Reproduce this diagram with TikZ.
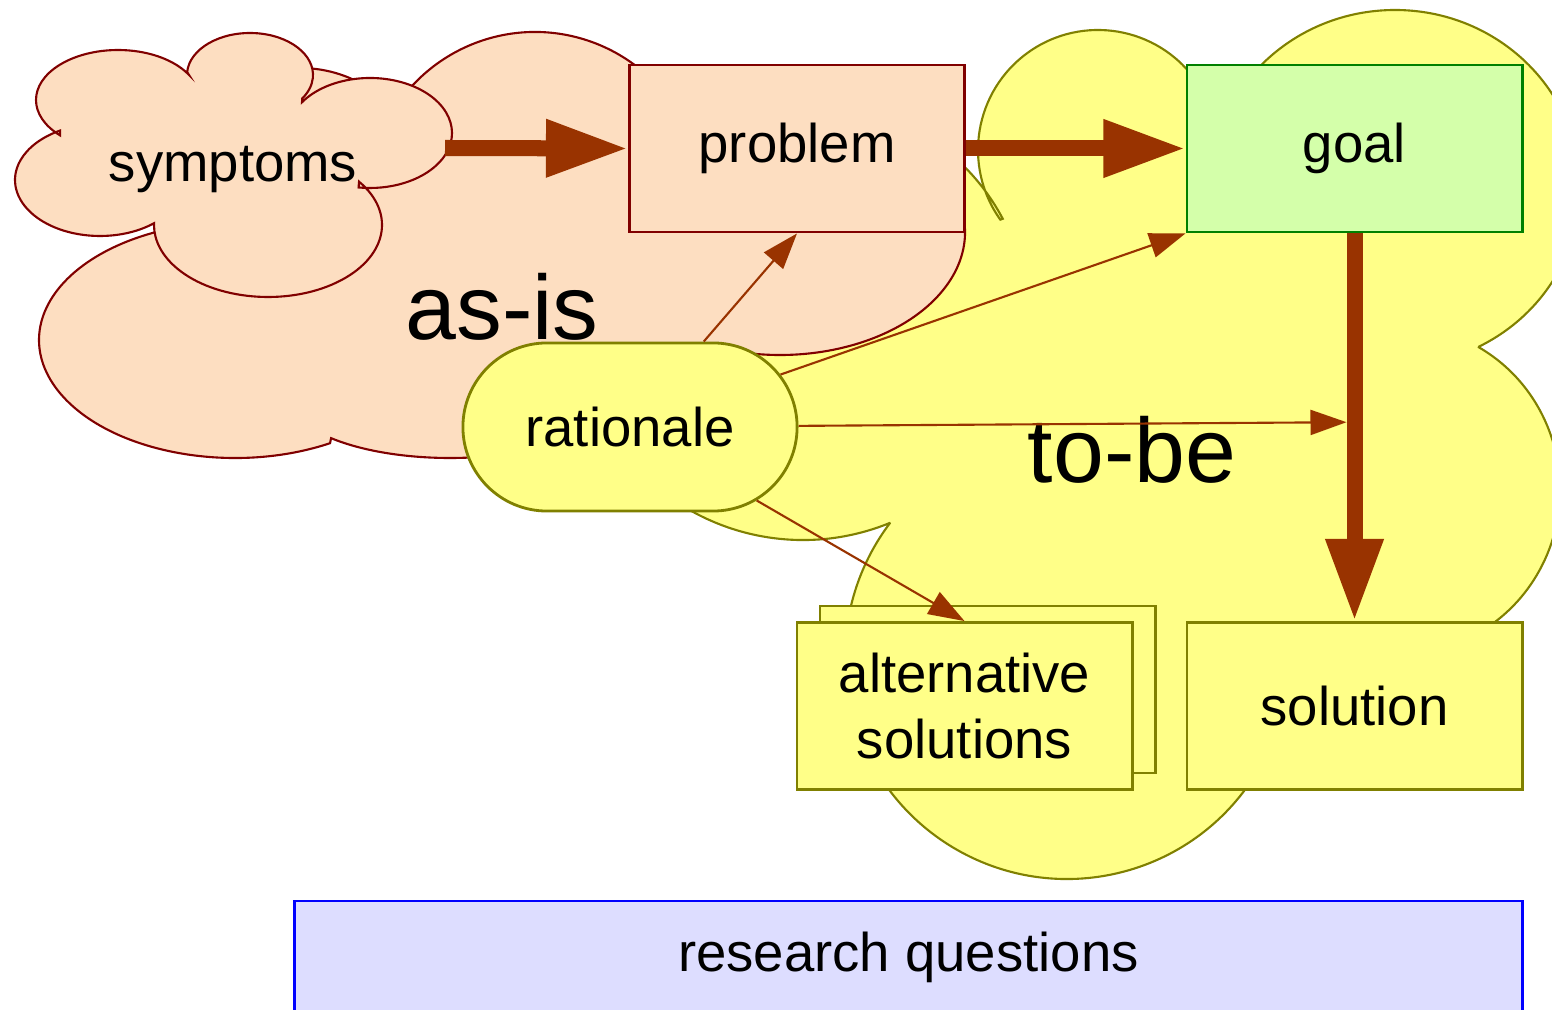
\documentclass[tikz,border=0pt]{standalone}
\usepackage{fontspec}
\setmainfont{Liberation Sans}
\usepackage{xcolor}
\usepackage{tikz}
\usetikzlibrary{arrows.meta, calc, shapes.misc}

\definecolor{asisfill}{RGB}{253,222,193}
\definecolor{asisline}{RGB}{128,0,0}
\definecolor{tobefill}{RGB}{255,255,136}
\definecolor{tobeline}{RGB}{128,128,0}
\definecolor{goalfill}{RGB}{212,255,170}
\definecolor{goalline}{RGB}{0,128,0}
\definecolor{rqfill}{RGB}{221,221,255}
\definecolor{rqline}{RGB}{0,0,255}
\definecolor{arrowcol}{RGB}{153,51,0}

\tikzset{
  asis cloud/.style = {draw=asisline, fill=asisfill, line width=0.6pt},
  tobe cloud/.style = {draw=tobeline, fill=tobefill, line width=0.6pt},
  diagram box/.style = {rectangle, minimum width=3.35cm, minimum height=1.67cm,
    inner sep=0pt, line width=0.8pt, align=center, font=\fontsize{15.5}{19}\selectfont},
  asis box/.style = {diagram box, draw=asisline, fill=asisfill},
  tobe box/.style = {diagram box, draw=tobeline, fill=tobefill},
  goal box/.style = {diagram box, draw=goalline, fill=goalfill},
  big arrow/.style = {draw=arrowcol, line width=0.16cm, -{Triangle[length=0.82cm, width=0.54cm]}},
  small arrow/.style = {draw=arrowcol, line width=0.6pt, -{Triangle[length=0.36cm, width=0.25cm]}},
  big label/.style = {anchor=base, inner sep=0pt, font=\fontsize{26}{30}\selectfont}
}

\begin{document}
\begin{tikzpicture}[x=0.01cm, y=-0.01cm]
\useasboundingbox (0,0) rectangle (1552,1010);

\draw[tobe cloud]
  ($(1098,150)+(144.5:120)$) arc[start angle=144.5, end angle=380, radius=120]
  -- ($(1395,188)+(180:185 and 178)$) arc[start angle=180, end angle=423, x radius=185, y radius=178]
  -- ($(1400,490)+(-60.5:160 and 164)$) arc[start angle=-60.5, end angle=60, x radius=160, y radius=164]
  -- ($(1067,657)+(30:222)$) arc[start angle=30, end angle=217, radius=222]
  -- ($(803,320)+(67.4:225 and 220)$) arc[start angle=67.4, end angle=332.6, x radius=225, y radius=220]
  -- cycle;

\draw[asis cloud]
  ($(535,199)+(200:167)$) arc[start angle=200, end angle=330, radius=167]
  -- ($(780,232)+(-60:185 and 123)$) arc[start angle=-60, end angle=105, x radius=185, y radius=123]
  -- ($(450,398)+(30:160 and 60)$) arc[start angle=30, end angle=138, x radius=160, y radius=60]
  -- ($(235,340)+(61:196 and 118)$) arc[start angle=61, end angle=255, x radius=196, y radius=118]
  -- ($(300,170)+(180:115 and 102)$) arc[start angle=180, end angle=330, x radius=115, y radius=102]
  -- cycle;

\draw[asis cloud]
  ($(118,100)+(135:82 and 50)$) arc[start angle=135, end angle=330, x radius=82, y radius=50]
  -- ($(250,75)+(184:63 and 42)$) arc[start angle=184, end angle=394, x radius=63, y radius=42]
  -- ($(370,133)+(214:82 and 55)$) arc[start angle=214, end angle=458, x radius=82, y radius=55]
  -- ($(268,225)+(-37:114 and 72)$) arc[start angle=-37, end angle=180, x radius=114, y radius=72]
  -- ($(100,180)+(50.5:85 and 56)$) arc[start angle=50.5, end angle=242, x radius=85, y radius=56]
  -- cycle;

\node[big label] (asis) at (502,340) {as-is};
\node[big label] (tobe) at (1132,483) {to-be};
\node[anchor=base, inner sep=0pt, font=\fontsize{15.5}{19}\selectfont] (symptoms) at (233,182) {symptoms};
\coordinate (sym) at (445,148);

\node[asis box] (problem) at (797,148.5) {problem};
\node[goal box] (goal) at (1354.5,148.5) {goal};
\node[tobe box] (solution) at (1354.5,706) {solution};
\node[tobe box] (altback) at (987.5,689.5) {};
\node[tobe box] (alt) at (964.5,706) {alternative\\solutions};
\node[tobe box, rounded rectangle, minimum width=3.34cm, minimum height=1.68cm] (rationale) at (630,427) {rationale};
\node[diagram box, draw=rqline, fill=rqfill, minimum width=12.27cm, minimum height=1.12cm] (questions) at (908.5,957) {research questions};

\coordinate (mid) at ($(goal.south)!0.487!(solution.north)+(-8,0)$);

\foreach \a/\b in {sym/problem.west, problem.east/goal.west, goal.south/solution.north}
  \draw[big arrow] (\a) -- (\b);
\foreach \b in {problem.south, goal.south west, mid, alt.north}
  \draw[small arrow] (rationale) -- (\b);

\end{tikzpicture}
\end{document}
